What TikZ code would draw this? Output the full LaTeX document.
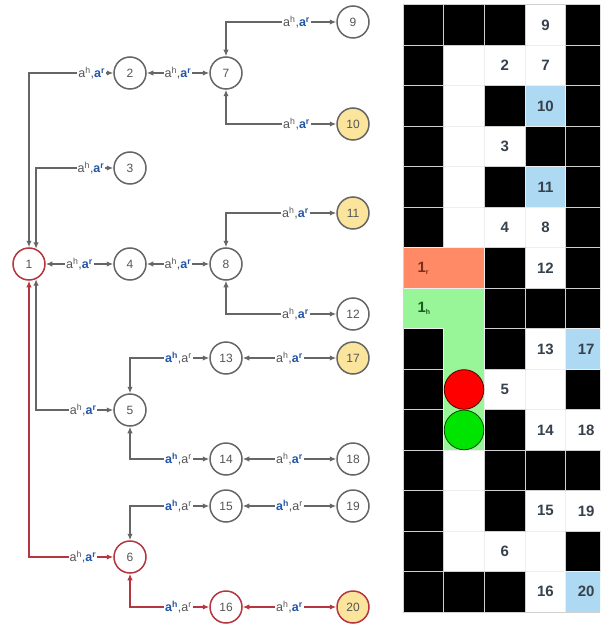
\documentclass[tikz,border=0pt]{standalone}
\usepackage{fontspec}
\setmainfont{Liberation Sans}
\usetikzlibrary{arrows.meta}
\definecolor{gline}{HTML}{666666}
\definecolor{rline}{HTML}{B5363F}
\definecolor{ntext}{HTML}{555555}
\definecolor{ablue}{HTML}{2456A6}
\definecolor{yfill}{HTML}{FBE49C}
\definecolor{salmon}{HTML}{FF8A65}
\definecolor{pgreen}{HTML}{98F598}
\definecolor{lblue}{HTML}{AED9F2}
\definecolor{gridc}{HTML}{D0D0D0}
\definecolor{gridw}{HTML}{EEEEEE}
\definecolor{numc}{HTML}{36414D}
\definecolor{onered}{HTML}{7B2E1E}
\definecolor{onegreen}{HTML}{1E5A1E}
\newcommand{\labR}{a\textsuperscript{h},\textcolor{ablue}{\bfseries a\textsuperscript{r}}}
\newcommand{\labH}{\textcolor{ablue}{\bfseries a\textsuperscript{h}},a\textsuperscript{r}}
\begin{document}
\begin{tikzpicture}[x=1pt,y=-1pt,
  st/.style={circle, draw=gline, line width=1.5pt, minimum size=32pt, inner sep=0pt, fill=white, text=ntext, font=\fontsize{12}{14}\selectfont},
  goal/.style={st, fill=yfill},
  redst/.style={st, draw=rline},
  conn/.style={draw=gline, line width=1.5pt, {Latex[length=6.5pt,width=5.5pt]}-{Latex[length=6.5pt,width=5.5pt]}},
  rconn/.style={conn, draw=rline},
  lbl/.style={fill=white, inner sep=1pt, text=ntext, font=\fontsize{12.5}{14}\selectfont},
  cellnum/.style={text=numc, font=\fontsize{15}{16}\bfseries},
]
\useasboundingbox (0,0) rectangle (600,628);
\fill[white] (0,0) rectangle (600,628);

% ---------------- graph ----------------
\node[redst] (n1) at (29,264) {1};
\node[st] (n2) at (130,73) {2};
\node[st] (n3) at (130,168) {3};
\node[st] (n4) at (130,264) {4};
\node[st] (n5) at (130,410) {5};
\node[redst] (n6) at (130,557) {6};
\node[st] (n7) at (226,73) {7};
\node[st] (n8) at (226,264) {8};
\node[st] (n9) at (353,22) {9};
\node[goal] (n10) at (353,124) {10};
\node[goal] (n11) at (353,213) {11};
\node[st] (n12) at (353,314) {12};
\node[st] (n13) at (226,358) {13};
\node[st] (n14) at (226,459) {14};
\node[st] (n15) at (226,506) {15};
\node[redst] (n16) at (226,607) {16};
\node[goal] (n17) at (353,358) {17};
\node[st] (n18) at (353,459) {18};
\node[st] (n19) at (353,506) {19};
\node[goal,draw=rline] (n20) at (353,607) {20};

\draw[conn] (n1) |- node[lbl,pos=0.872]{\labR} (n2);
\draw[conn] (n1.65) |- node[lbl,pos=0.856]{\labR} (n3);
\draw[conn] (n1) -- node[lbl]{\labR} (n4);
\draw[conn] (n1.-65) |- node[lbl,pos=0.805]{\labR} (n5);
\draw[rconn] (n1) |- node[lbl,pos=0.82]{\labR} (n6);
\draw[conn] (n2) -- node[lbl]{\labR} (n7);
\draw[conn] (n4) -- node[lbl]{\labR} (n8);
\draw[conn] (n7) |- node[lbl,pos=0.82]{\labR} (n9);
\draw[conn] (n7) |- node[lbl,pos=0.82]{\labR} (n10);
\draw[conn] (n8) |- node[lbl,pos=0.815]{\labR} (n11);
\draw[conn] (n8) |- node[lbl,pos=0.815]{\labR} (n12);
\draw[conn] (n5) |- node[lbl,pos=0.806]{\labH} (n13);
\draw[conn] (n5) |- node[lbl,pos=0.806]{\labH} (n14);
\draw[conn] (n6) |- node[lbl,pos=0.806]{\labH} (n15);
\draw[rconn] (n6) |- node[lbl,pos=0.806]{\labH} (n16);
\draw[conn] (n13) -- node[lbl]{\labR} (n17);
\draw[conn] (n14) -- node[lbl]{\labR} (n18);
\draw[conn] (n15) -- node[lbl]{\labH} (n19);
\draw[rconn] (n16) -- node[lbl]{\labR} (n20);

% ---------------- grid ----------------
\begin{scope}
\clip (0,0) rectangle (600,628);
\def\cw{40.7}
\def\ch{40.47}
\foreach \c in {0,...,4}{
  \foreach \r in {0,...,14}{
    \filldraw[fill=white, draw=gridw, line width=1pt] ({403+\c*\cw},{5+\r*\ch}) rectangle +(\cw,\ch);
  }
}
\foreach \c/\r in {0/0,1/0,2/0,4/0, 0/1,4/1, 0/2,2/2,4/2, 0/3,3/3,4/3, 0/4,2/4,4/4, 0/5,4/5, 2/6,4/6, 2/7,3/7,4/7, 0/8,2/8, 0/9,4/9, 0/10,2/10, 0/11,2/11,3/11,4/11, 0/12,2/12, 0/13,4/13, 0/14,1/14,2/14}{
  \filldraw[fill=black, draw=gridc, line width=1pt] ({403+\c*\cw},{5+\r*\ch}) rectangle +(\cw,\ch);
}
\foreach \c/\r in {3/2, 3/4, 4/8, 4/14}{
  \filldraw[fill=lblue, draw=gridw, line width=1pt] ({403+\c*\cw},{5+\r*\ch}) rectangle +(\cw,\ch);
}
% merged salmon cell (1_r)
\filldraw[fill=salmon, draw=gridw, line width=1pt] (403,{5+6*\ch}) rectangle ({403+2*\cw},{5+7*\ch});
% green region (1_h and corridor)
\filldraw[fill=pgreen, draw=gridw, line width=1pt] (403,{5+7*\ch}) -- ({403+2*\cw},{5+7*\ch}) -- ({403+2*\cw},{5+11*\ch}) -- ({403+\cw},{5+11*\ch}) -- ({403+\cw},{5+8*\ch}) -- (403,{5+8*\ch}) -- cycle;
\node[anchor=west, text=onered, font=\fontsize{15}{16}\bfseries] (onr) at (414,{5+6.5*\ch}) {1\textsubscript{\fontsize{7}{8}\selectfont r}};
\node[anchor=west, text=onegreen, font=\fontsize{15}{16}\bfseries] (onh) at (414,{5+7.5*\ch}) {1\textsubscript{\fontsize{7}{8}\selectfont h}};
% agents
\filldraw[fill=red, draw=black!70!red, line width=0.8pt] ({403+1.5*\cw},{5+9.5*\ch}) circle (19.8);
\filldraw[fill=green!90!black!100, draw=black!70!green, line width=0.8pt] ({403+1.5*\cw},{5+10.5*\ch}) circle (19.8);
% cell numbers
\foreach \c/\r/\t in {3/0/9, 2/1/2, 3/1/7, 3/2/10, 2/3/3, 3/4/11, 2/5/4, 3/5/8, 3/6/12, 3/8/13, 4/8/17, 2/9/5, 3/10/14, 4/10/18, 3/12/15, 4/12/19, 2/13/6, 3/14/16, 4/14/20}{
  \node[cellnum] at ({403+(\c+0.5)*\cw},{5+(\r+0.5)*\ch}) {\t};
}
\draw[gridc, line width=1pt] (403,5) rectangle ({403+5*\cw},{5+15*\ch});
\end{scope}
\end{tikzpicture}
\end{document}
